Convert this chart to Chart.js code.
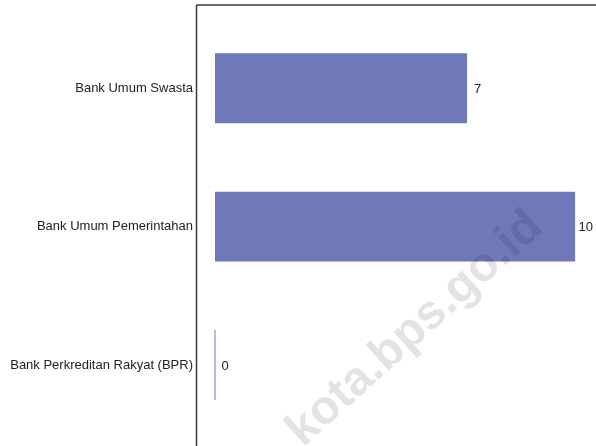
<!DOCTYPE html>
<html>
<head>
    <meta charset="utf-8"/>
    <title>Bank</title>
    <script src="https://cdn.jsdelivr.net/npm/chart.js@4"></script>
    <style>
        html, body { margin: 0; padding: 0; background: #fff; }
        .chart-container { width: 596px; height: 446px; }
    </style>
</head>
<body>
    <div class="chart-container">
        <canvas id="myChart" width="596" height="446"></canvas>
    </div>
    <script>
        const categories = ['Bank Umum Swasta', 'Bank Umum Pemerintahan', 'Bank Perkreditan Rakyat (BPR)'];
        const values = [7, 10, 0];
        const watermark = 'kota.bps.go.id';

        const barColor = '#6f79ba';
        const fontFamily = '"Liberation Sans", Arial, Helvetica, sans-serif';

        // axis lines: left one and the top one, both longer than the plot area
        const frameLines = {
            id: 'frameLines',
            afterDraw(chart) {
                const { ctx, chartArea } = chart;
                ctx.save();
                ctx.strokeStyle = '#3a3a3a';
                ctx.lineWidth = 1.5;
                ctx.beginPath();
                ctx.moveTo(chartArea.left - 0.5, 5);
                ctx.lineTo(chartArea.left - 0.5, chart.height);
                ctx.moveTo(chartArea.left - 0.5, 5);
                ctx.lineTo(chart.width, 5);
                ctx.stroke();
                ctx.restore();
            }
        };

        // numbers at the end of each bar, kept inside the canvas
        const valueLabels = {
            id: 'valueLabels',
            afterDatasetsDraw(chart) {
                const { ctx } = chart;
                const meta = chart.getDatasetMeta(0);
                ctx.save();
                ctx.fillStyle = '#222';
                ctx.font = '13px ' + fontFamily;
                ctx.textBaseline = 'middle';
                ctx.textAlign = 'left';
                meta.data.forEach((bar, i) => {
                    const txt = String(values[i]);
                    const w = ctx.measureText(txt).width;
                    const x = Math.min(bar.x + 7, chart.width - w - 3);
                    ctx.fillText(txt, x, bar.y + 1);
                });
                ctx.restore();
            }
        };

        const watermarkText = {
            id: 'watermarkText',
            afterDraw(chart) {
                const { ctx } = chart;
                ctx.save();
                ctx.translate(415, 329);
                ctx.rotate(-42 * Math.PI / 180);
                ctx.fillStyle = 'rgba(0, 0, 0, 0.11)';
                ctx.font = 'bold 48px ' + fontFamily;
                ctx.textAlign = 'center';
                ctx.textBaseline = 'middle';
                ctx.fillText(watermark, 0, 0);
                ctx.restore();
            }
        };

        const ctx = document.getElementById('myChart').getContext('2d');
        new Chart(ctx, {
            type: 'bar',
            data: {
                labels: categories,
                datasets: [{
                    data: values,
                    backgroundColor: barColor,
                    categoryPercentage: 1,
                    barPercentage: 0.505,
                    minBarLength: 1,
                }]
            },
            options: {
                indexAxis: 'y',
                responsive: false,
                animation: false,
                layout: { padding: { top: 19, bottom: 11, left: 0, right: 0 } },
                plugins: {
                    legend: { display: false },
                    tooltip: { enabled: false },
                },
                scales: {
                    x: {
                        display: false,
                        min: -0.5,
                        max: 10.58,
                    },
                    y: {
                        afterFit: (scale) => { scale.width = 197; },
                        grid: { display: false, drawTicks: false },
                        border: { display: false },
                        ticks: {
                            color: '#222',
                            padding: 4,
                            font: { family: fontFamily, size: 13 },
                        },
                    }
                }
            },
            plugins: [valueLabels, frameLines, watermarkText]
        });
    </script>
</body>
</html>
